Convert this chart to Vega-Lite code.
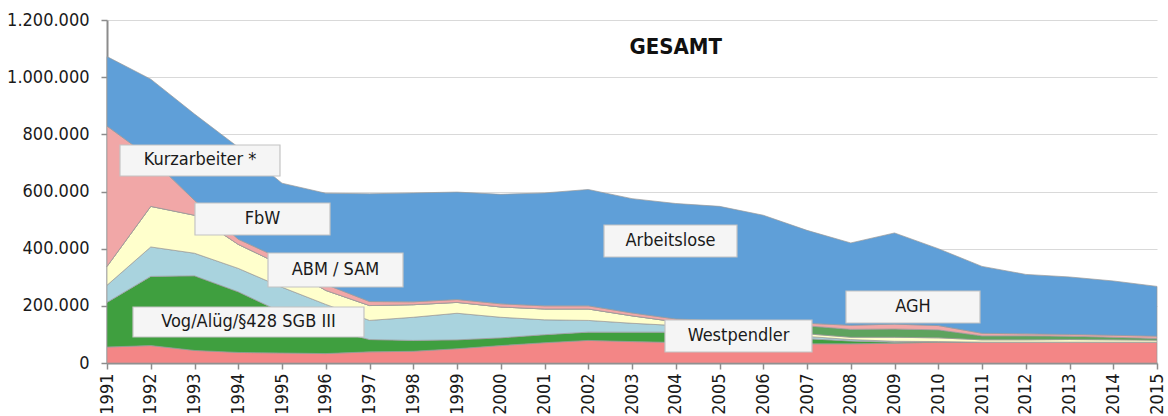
{
  "$schema": "https://vega.github.io/schema/vega-lite/v6.json",
  "autosize": {"type": "none"},
  "padding": {"left": 107, "top": 20, "right": 11, "bottom": 53},
  "width": 1050,
  "height": 343,
  "background": "white",
  "config": {
    "view": {"stroke": null},
    "font": "'DejaVu Sans Condensed', 'Liberation Sans', Arial, sans-serif",
    "locale": {"number": {"decimal": ",", "thousands": ".", "grouping": [3], "currency": ["", " €"]}}
  },
  "datasets": {
    "main": [
      {"year": 1991, "series": "Westpendler", "value": 56000},
      {"year": 1991, "series": "Vog", "value": 156000},
      {"year": 1991, "series": "ABM", "value": 60000},
      {"year": 1991, "series": "FbW", "value": 66000},
      {"year": 1991, "series": "AGH", "value": 0},
      {"year": 1991, "series": "Kurzarbeiter", "value": 491000},
      {"year": 1991, "series": "Arbeitslose", "value": 243000},
      {"year": 1992, "series": "Westpendler", "value": 61000},
      {"year": 1992, "series": "Vog", "value": 242000},
      {"year": 1992, "series": "ABM", "value": 103000},
      {"year": 1992, "series": "FbW", "value": 142000},
      {"year": 1992, "series": "AGH", "value": 0},
      {"year": 1992, "series": "Kurzarbeiter", "value": 169000},
      {"year": 1992, "series": "Arbeitslose", "value": 276000},
      {"year": 1993, "series": "Westpendler", "value": 44000},
      {"year": 1993, "series": "Vog", "value": 261000},
      {"year": 1993, "series": "ABM", "value": 79000},
      {"year": 1993, "series": "FbW", "value": 133000},
      {"year": 1993, "series": "AGH", "value": 0},
      {"year": 1993, "series": "Kurzarbeiter", "value": 52000},
      {"year": 1993, "series": "Arbeitslose", "value": 302000},
      {"year": 1994, "series": "Westpendler", "value": 37000},
      {"year": 1994, "series": "Vog", "value": 212000},
      {"year": 1994, "series": "ABM", "value": 82000},
      {"year": 1994, "series": "FbW", "value": 84000},
      {"year": 1994, "series": "AGH", "value": 0},
      {"year": 1994, "series": "Kurzarbeiter", "value": 18000},
      {"year": 1994, "series": "Arbeitslose", "value": 322000},
      {"year": 1995, "series": "Westpendler", "value": 35000},
      {"year": 1995, "series": "Vog", "value": 142000},
      {"year": 1995, "series": "ABM", "value": 88000},
      {"year": 1995, "series": "FbW", "value": 77000},
      {"year": 1995, "series": "AGH", "value": 0},
      {"year": 1995, "series": "Kurzarbeiter", "value": 21000},
      {"year": 1995, "series": "Arbeitslose", "value": 266000},
      {"year": 1996, "series": "Westpendler", "value": 33000},
      {"year": 1996, "series": "Vog", "value": 88000},
      {"year": 1996, "series": "ABM", "value": 84000},
      {"year": 1996, "series": "FbW", "value": 49000},
      {"year": 1996, "series": "AGH", "value": 0},
      {"year": 1996, "series": "Kurzarbeiter", "value": 21000},
      {"year": 1996, "series": "Arbeitslose", "value": 319000},
      {"year": 1997, "series": "Westpendler", "value": 39000},
      {"year": 1997, "series": "Vog", "value": 43000},
      {"year": 1997, "series": "ABM", "value": 67000},
      {"year": 1997, "series": "FbW", "value": 52000},
      {"year": 1997, "series": "AGH", "value": 0},
      {"year": 1997, "series": "Kurzarbeiter", "value": 14000},
      {"year": 1997, "series": "Arbeitslose", "value": 377000},
      {"year": 1998, "series": "Westpendler", "value": 41000},
      {"year": 1998, "series": "Vog", "value": 38000},
      {"year": 1998, "series": "ABM", "value": 81000},
      {"year": 1998, "series": "FbW", "value": 44000},
      {"year": 1998, "series": "AGH", "value": 0},
      {"year": 1998, "series": "Kurzarbeiter", "value": 10000},
      {"year": 1998, "series": "Arbeitslose", "value": 381000},
      {"year": 1999, "series": "Westpendler", "value": 50000},
      {"year": 1999, "series": "Vog", "value": 31000},
      {"year": 1999, "series": "ABM", "value": 93000},
      {"year": 1999, "series": "FbW", "value": 38000},
      {"year": 1999, "series": "AGH", "value": 0},
      {"year": 1999, "series": "Kurzarbeiter", "value": 10000},
      {"year": 1999, "series": "Arbeitslose", "value": 376000},
      {"year": 2000, "series": "Westpendler", "value": 61000},
      {"year": 2000, "series": "Vog", "value": 27000},
      {"year": 2000, "series": "ABM", "value": 72000},
      {"year": 2000, "series": "FbW", "value": 36000},
      {"year": 2000, "series": "AGH", "value": 0},
      {"year": 2000, "series": "Kurzarbeiter", "value": 11000},
      {"year": 2000, "series": "Arbeitslose", "value": 383000},
      {"year": 2001, "series": "Westpendler", "value": 71000},
      {"year": 2001, "series": "Vog", "value": 28000},
      {"year": 2001, "series": "ABM", "value": 52000},
      {"year": 2001, "series": "FbW", "value": 38000},
      {"year": 2001, "series": "AGH", "value": 0},
      {"year": 2001, "series": "Kurzarbeiter", "value": 11000},
      {"year": 2001, "series": "Arbeitslose", "value": 395000},
      {"year": 2002, "series": "Westpendler", "value": 79000},
      {"year": 2002, "series": "Vog", "value": 29000},
      {"year": 2002, "series": "ABM", "value": 41000},
      {"year": 2002, "series": "FbW", "value": 40000},
      {"year": 2002, "series": "AGH", "value": 0},
      {"year": 2002, "series": "Kurzarbeiter", "value": 11000},
      {"year": 2002, "series": "Arbeitslose", "value": 407000},
      {"year": 2003, "series": "Westpendler", "value": 75000},
      {"year": 2003, "series": "Vog", "value": 33000},
      {"year": 2003, "series": "ABM", "value": 31000},
      {"year": 2003, "series": "FbW", "value": 26000},
      {"year": 2003, "series": "AGH", "value": 0},
      {"year": 2003, "series": "Kurzarbeiter", "value": 10000},
      {"year": 2003, "series": "Arbeitslose", "value": 400000},
      {"year": 2004, "series": "Westpendler", "value": 72000},
      {"year": 2004, "series": "Vog", "value": 36000},
      {"year": 2004, "series": "ABM", "value": 23000},
      {"year": 2004, "series": "FbW", "value": 13000},
      {"year": 2004, "series": "AGH", "value": 0},
      {"year": 2004, "series": "Kurzarbeiter", "value": 10000},
      {"year": 2004, "series": "Arbeitslose", "value": 404000},
      {"year": 2005, "series": "Westpendler", "value": 70000},
      {"year": 2005, "series": "Vog", "value": 30000},
      {"year": 2005, "series": "ABM", "value": 15000},
      {"year": 2005, "series": "FbW", "value": 8000},
      {"year": 2005, "series": "AGH", "value": 20000},
      {"year": 2005, "series": "Kurzarbeiter", "value": 5000},
      {"year": 2005, "series": "Arbeitslose", "value": 400000},
      {"year": 2006, "series": "Westpendler", "value": 68000},
      {"year": 2006, "series": "Vog", "value": 22000},
      {"year": 2006, "series": "ABM", "value": 10000},
      {"year": 2006, "series": "FbW", "value": 8000},
      {"year": 2006, "series": "AGH", "value": 30000},
      {"year": 2006, "series": "Kurzarbeiter", "value": 5000},
      {"year": 2006, "series": "Arbeitslose", "value": 374000},
      {"year": 2007, "series": "Westpendler", "value": 67000},
      {"year": 2007, "series": "Vog", "value": 18000},
      {"year": 2007, "series": "ABM", "value": 8000},
      {"year": 2007, "series": "FbW", "value": 9000},
      {"year": 2007, "series": "AGH", "value": 28000},
      {"year": 2007, "series": "Kurzarbeiter", "value": 9000},
      {"year": 2007, "series": "Arbeitslose", "value": 325000},
      {"year": 2008, "series": "Westpendler", "value": 67000},
      {"year": 2008, "series": "Vog", "value": 10000},
      {"year": 2008, "series": "ABM", "value": 5000},
      {"year": 2008, "series": "FbW", "value": 8000},
      {"year": 2008, "series": "AGH", "value": 28000},
      {"year": 2008, "series": "Kurzarbeiter", "value": 14000},
      {"year": 2008, "series": "Arbeitslose", "value": 288000},
      {"year": 2009, "series": "Westpendler", "value": 69000},
      {"year": 2009, "series": "Vog", "value": 4000},
      {"year": 2009, "series": "ABM", "value": 3000},
      {"year": 2009, "series": "FbW", "value": 14000},
      {"year": 2009, "series": "AGH", "value": 29000},
      {"year": 2009, "series": "Kurzarbeiter", "value": 17000},
      {"year": 2009, "series": "Arbeitslose", "value": 319000},
      {"year": 2010, "series": "Westpendler", "value": 73000},
      {"year": 2010, "series": "Vog", "value": 1000},
      {"year": 2010, "series": "ABM", "value": 1000},
      {"year": 2010, "series": "FbW", "value": 13000},
      {"year": 2010, "series": "AGH", "value": 28000},
      {"year": 2010, "series": "Kurzarbeiter", "value": 15000},
      {"year": 2010, "series": "Arbeitslose", "value": 269000},
      {"year": 2011, "series": "Westpendler", "value": 73000},
      {"year": 2011, "series": "Vog", "value": 0},
      {"year": 2011, "series": "ABM", "value": 0},
      {"year": 2011, "series": "FbW", "value": 8000},
      {"year": 2011, "series": "AGH", "value": 14000},
      {"year": 2011, "series": "Kurzarbeiter", "value": 9000},
      {"year": 2011, "series": "Arbeitslose", "value": 234000},
      {"year": 2012, "series": "Westpendler", "value": 73000},
      {"year": 2012, "series": "Vog", "value": 0},
      {"year": 2012, "series": "ABM", "value": 0},
      {"year": 2012, "series": "FbW", "value": 8000},
      {"year": 2012, "series": "AGH", "value": 14000},
      {"year": 2012, "series": "Kurzarbeiter", "value": 7000},
      {"year": 2012, "series": "Arbeitslose", "value": 208000},
      {"year": 2013, "series": "Westpendler", "value": 73000},
      {"year": 2013, "series": "Vog", "value": 0},
      {"year": 2013, "series": "ABM", "value": 0},
      {"year": 2013, "series": "FbW", "value": 9000},
      {"year": 2013, "series": "AGH", "value": 12000},
      {"year": 2013, "series": "Kurzarbeiter", "value": 6000},
      {"year": 2013, "series": "Arbeitslose", "value": 201000},
      {"year": 2014, "series": "Westpendler", "value": 73000},
      {"year": 2014, "series": "Vog", "value": 0},
      {"year": 2014, "series": "ABM", "value": 0},
      {"year": 2014, "series": "FbW", "value": 8000},
      {"year": 2014, "series": "AGH", "value": 9000},
      {"year": 2014, "series": "Kurzarbeiter", "value": 7000},
      {"year": 2014, "series": "Arbeitslose", "value": 190000},
      {"year": 2015, "series": "Westpendler", "value": 73000},
      {"year": 2015, "series": "Vog", "value": 0},
      {"year": 2015, "series": "ABM", "value": 0},
      {"year": 2015, "series": "FbW", "value": 7000},
      {"year": 2015, "series": "AGH", "value": 6000},
      {"year": 2015, "series": "Kurzarbeiter", "value": 8000},
      {"year": 2015, "series": "Arbeitslose", "value": 174000}
    ],
    "boxes": [
      {"label": "Kurzarbeiter *", "x1": 1991.297, "x2": 1994.954, "y1": 762700, "y2": 654200, "xm": 1993.126, "ym": 708500},
      {"label": "FbW", "x1": 1993.011, "x2": 1996.097, "y1": 559800, "y2": 447800, "xm": 1994.554, "ym": 503800},
      {"label": "ABM / SAM", "x1": 1994.68, "x2": 1997.766, "y1": 384800, "y2": 265900, "xm": 1996.223, "ym": 325300},
      {"label": "Vog/Alüg/§428 SGB III", "x1": 1991.594, "x2": 1996.874, "y1": 195900, "y2": 91000, "xm": 1994.234, "ym": 143400},
      {"label": "Arbeitslose", "x1": 2002.36, "x2": 2005.4, "y1": 482800, "y2": 370800, "xm": 2003.88, "ym": 426800},
      {"label": "Westpendler", "x1": 2003.754, "x2": 2007.114, "y1": 150400, "y2": 38500, "xm": 2005.434, "ym": 94500},
      {"label": "AGH", "x1": 2007.891, "x2": 2010.954, "y1": 251900, "y2": 139900, "xm": 2009.42, "ym": 195900}
    ],
    "heading": [
      {"label": "GESAMT", "xm": 2004.0, "ym": 1105000}
    ]
  },
  "layer": [
    {
      "data": {"name": "main"},
      "transform": [
        {"calculate": "indexof(['Westpendler','Vog','ABM','FbW','AGH','Kurzarbeiter','Arbeitslose'], datum.series)", "as": "stackOrder"}
      ],
      "mark": {"type": "area", "interpolate": "linear", "stroke": "#9a9a9a", "strokeWidth": 0.7},
      "encoding": {
        "x": {
          "field": "year", "type": "quantitative",
          "scale": {"domain": [1991, 2015], "nice": false, "zero": false},
          "axis": {
            "title": null, "values": [1991,1992,1993,1994,1995,1996,1997,1998,1999,2000,2001,2002,2003,2004,2005,2006,2007,2008,2009,2010,2011,2012,2013,2014,2015],
            "format": "d", "labelAngle": -90, "labelAlign": "right", "labelBaseline": "middle",
            "labelFontSize": 18, "labelColor": "#1a1a1a", "labelPadding": 4,
            "tickSize": 6, "tickColor": "#8c8c8c", "tickWidth": 1.5,
            "domainColor": "#8c8c8c", "domainWidth": 2, "grid": false, "labelOverlap": false
          }
        },
        "y": {
          "field": "value", "type": "quantitative", "stack": "zero",
          "scale": {"domain": [0, 1200000], "nice": false},
          "axis": {
            "title": null, "values": [0, 200000, 400000, 600000, 800000, 1000000, 1200000],
            "format": ",d", "labelFontSize": 18, "labelColor": "#1a1a1a", "labelPadding": 12,
            "tickSize": 6, "tickColor": "#8c8c8c", "tickWidth": 1.5,
            "domainColor": "#8c8c8c", "domainWidth": 2,
            "grid": true, "gridColor": "#d9d9d9", "gridWidth": 1.2
          }
        },
        "color": {
          "field": "series", "type": "nominal", "legend": null,
          "scale": {
            "domain": ["Westpendler", "Vog", "ABM", "FbW", "AGH", "Kurzarbeiter", "Arbeitslose"],
            "range": ["#f38686", "#3f9f3f", "#a9d3de", "#ffffcc", "#5ea35e", "#f1a7a7", "#5f9fd8"]
          }
        },
        "order": {"field": "stackOrder", "type": "quantitative", "sort": "ascending"}
      }
    },
    {
      "data": {"name": "boxes"},
      "mark": {"type": "rect", "fill": "#f5f5f5", "stroke": "#c4c4c4", "strokeWidth": 1.2},
      "encoding": {
        "x": {"field": "x1", "type": "quantitative"},
        "x2": {"field": "x2"},
        "y": {"field": "y1", "type": "quantitative"},
        "y2": {"field": "y2"}
      }
    },
    {
      "data": {"name": "boxes"},
      "mark": {"type": "text", "fontSize": 18, "color": "#1a1a1a", "align": "center", "baseline": "middle"},
      "encoding": {
        "x": {"field": "xm", "type": "quantitative"},
        "y": {"field": "ym", "type": "quantitative"},
        "text": {"field": "label"}
      }
    },
    {
      "data": {"name": "heading"},
      "mark": {"type": "text", "fontSize": 22, "fontWeight": "bold", "color": "#111111", "align": "center", "baseline": "middle"},
      "encoding": {
        "x": {"field": "xm", "type": "quantitative"},
        "y": {"field": "ym", "type": "quantitative"},
        "text": {"field": "label"}
      }
    }
  ]
}
